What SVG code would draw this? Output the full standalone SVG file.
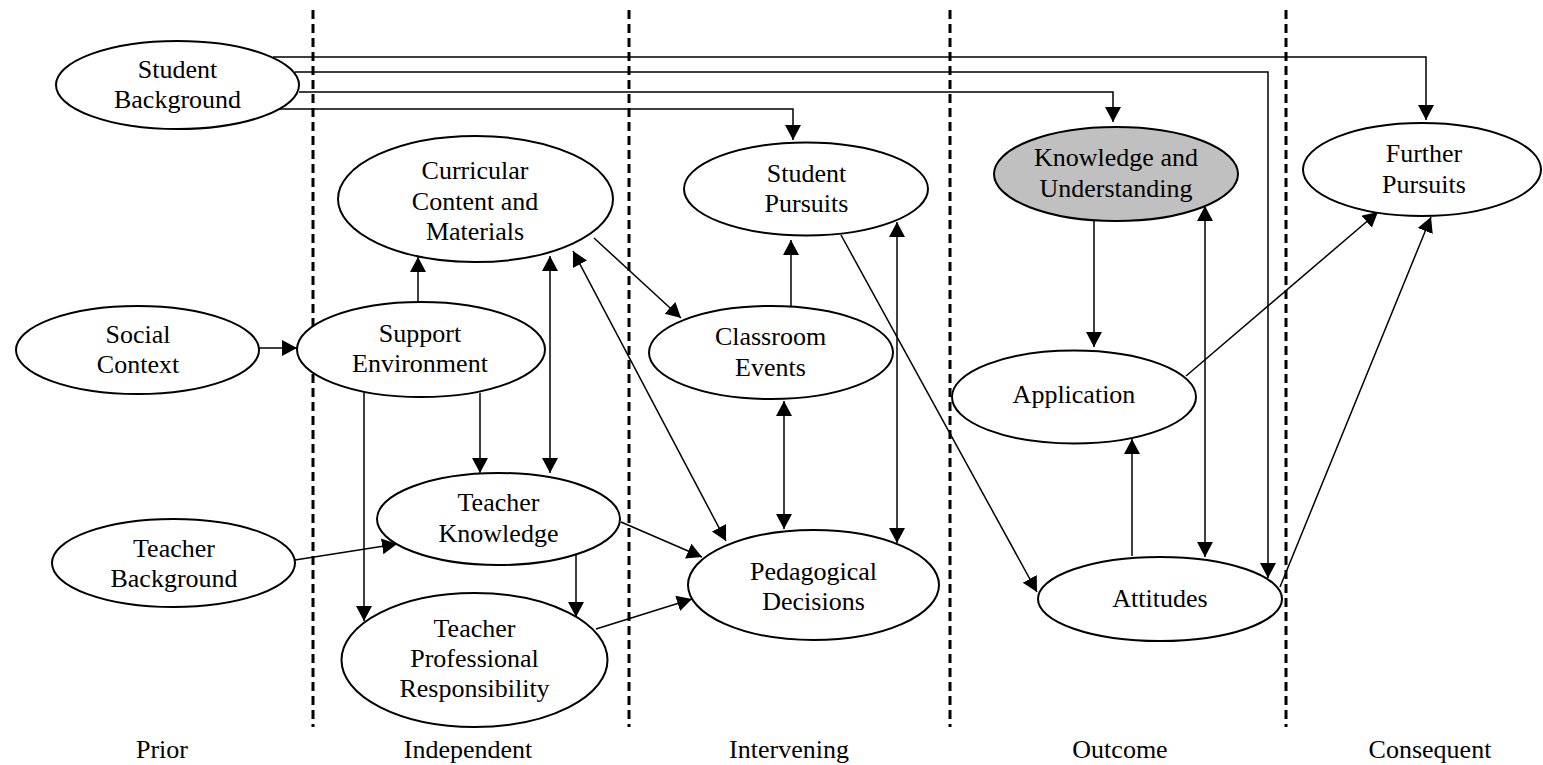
<svg xmlns="http://www.w3.org/2000/svg" width="1543" height="765" viewBox="0 0 1543 765">
<defs>
<marker id="ah" markerUnits="userSpaceOnUse" markerWidth="16" markerHeight="17" refX="15" refY="8" orient="auto-start-reverse" viewBox="0 0 16 17">
<path d="M0,0 L15,8 L0,16 z" fill="#000"/>
</marker>
</defs>
<style>
.n{fill:#fff;stroke:#000;stroke-width:2}
.g{fill:#c0c0c0}
text{font-family:"Liberation Serif","Times New Roman",serif;font-size:26px;fill:#000;text-anchor:middle}
.c{fill:none;stroke:#000;stroke-width:1.5}
.e{marker-end:url(#ah)}
.b{marker-start:url(#ah);marker-end:url(#ah)}
.d{stroke:#000;stroke-width:3;stroke-dasharray:9 5}
</style>
<rect width="1543" height="765" fill="#fff"/>
<g id="dividers">
<line class="d" x1="313" y1="10" x2="313" y2="727"/>
<line class="d" x1="629" y1="10" x2="629" y2="727"/>
<line class="d" x1="950" y1="10" x2="950" y2="727"/>
<line class="d" x1="1286" y1="10" x2="1286" y2="727"/>
</g>
<g id="connectors">
<path class="c e" d="M273,57 H1426 V120"/>
<path class="c e" d="M295,72 H1268 V578"/>
<path class="c e" d="M299,92 H1113 V122"/>
<path class="c e" d="M280,109 H793 V140"/>
<line class="c e" x1="259" y1="348" x2="297" y2="348"/>
<line class="c e" x1="418" y1="302" x2="418" y2="257"/>
<line class="c b" x1="550" y1="256" x2="550" y2="473"/>
<line class="c b" x1="573" y1="251" x2="726" y2="541"/>
<line class="c e" x1="594" y1="238" x2="681" y2="318"/>
<line class="c e" x1="791" y1="306" x2="791" y2="240"/>
<line class="c b" x1="897" y1="222" x2="897" y2="543"/>
<line class="c e" x1="841" y1="235" x2="1037" y2="592"/>
<line class="c b" x1="784" y1="401" x2="784" y2="529"/>
<line class="c e" x1="480" y1="393" x2="480" y2="473"/>
<line class="c e" x1="364" y1="393" x2="364" y2="621"/>
<line class="c e" x1="295" y1="560" x2="397" y2="544"/>
<line class="c e" x1="621" y1="522" x2="702" y2="557"/>
<line class="c e" x1="576" y1="555" x2="576" y2="617"/>
<line class="c e" x1="596" y1="629" x2="692" y2="599"/>
<line class="c e" x1="1094" y1="221" x2="1094" y2="347"/>
<line class="c b" x1="1205" y1="206" x2="1205" y2="557"/>
<line class="c e" x1="1186" y1="376" x2="1378" y2="212"/>
<line class="c e" x1="1280" y1="587" x2="1431" y2="217"/>
<line class="c e" x1="1132" y1="556" x2="1132" y2="439"/>
</g>
<g id="student-background"><ellipse class="n" cx="177.5" cy="85" rx="121.5" ry="44"/><text x="177.5" y="78">Student</text><text x="177.5" y="108">Background</text></g>
<g id="curricular"><ellipse class="n" cx="475.5" cy="199" rx="137.5" ry="63"/><text x="475" y="179">Curricular</text><text x="475" y="210">Content and</text><text x="475" y="240">Materials</text></g>
<g id="student-pursuits"><ellipse class="n" cx="806" cy="189" rx="122" ry="46.5"/><text x="806.5" y="182">Student</text><text x="806.5" y="212">Pursuits</text></g>
<g id="knowledge-understanding"><ellipse class="n g" cx="1116" cy="174" rx="122" ry="47"/><text x="1116" y="166">Knowledge and</text><text x="1116" y="197">Understanding</text></g>
<g id="further-pursuits"><ellipse class="n" cx="1422" cy="169.5" rx="119" ry="46.5"/><text x="1424" y="162">Further</text><text x="1424" y="193">Pursuits</text></g>
<g id="social-context"><ellipse class="n" cx="137.5" cy="350" rx="121.5" ry="44"/><text x="138" y="343">Social</text><text x="138" y="373">Context</text></g>
<g id="support-environment"><ellipse class="n" cx="421" cy="349.5" rx="124" ry="47.5"/><text x="420" y="342">Support</text><text x="420" y="372">Environment</text></g>
<g id="classroom-events"><ellipse class="n" cx="771" cy="352.5" rx="122" ry="46.5"/><text x="770.5" y="345">Classroom</text><text x="770.5" y="376">Events</text></g>
<g id="application"><ellipse class="n" cx="1074" cy="397" rx="122" ry="46.5"/><text x="1074" y="403">Application</text></g>
<g id="teacher-knowledge"><ellipse class="n" cx="498.5" cy="519" rx="121.5" ry="46"/><text x="498.5" y="511">Teacher</text><text x="498.5" y="542">Knowledge</text></g>
<g id="teacher-background"><ellipse class="n" cx="173.5" cy="563" rx="121.5" ry="44"/><text x="174" y="557">Teacher</text><text x="174" y="587">Background</text></g>
<g id="pedagogical-decisions"><ellipse class="n" cx="813.5" cy="585" rx="125.5" ry="55"/><text x="813.5" y="580">Pedagogical</text><text x="813.5" y="610">Decisions</text></g>
<g id="attitudes"><ellipse class="n" cx="1160" cy="599" rx="122" ry="42"/><text x="1160" y="607">Attitudes</text></g>
<g id="teacher-professional"><ellipse class="n" cx="474.5" cy="660" rx="133" ry="67"/><text x="474.5" y="637">Teacher</text><text x="474.5" y="667">Professional</text><text x="474.5" y="697">Responsibility</text></g>
<g id="labels">
<text x="162" y="758">Prior</text>
<text x="468" y="758">Independent</text>
<text x="789" y="758">Intervening</text>
<text x="1120" y="758">Outcome</text>
<text x="1430" y="758">Consequent</text>
</g>
</svg>
